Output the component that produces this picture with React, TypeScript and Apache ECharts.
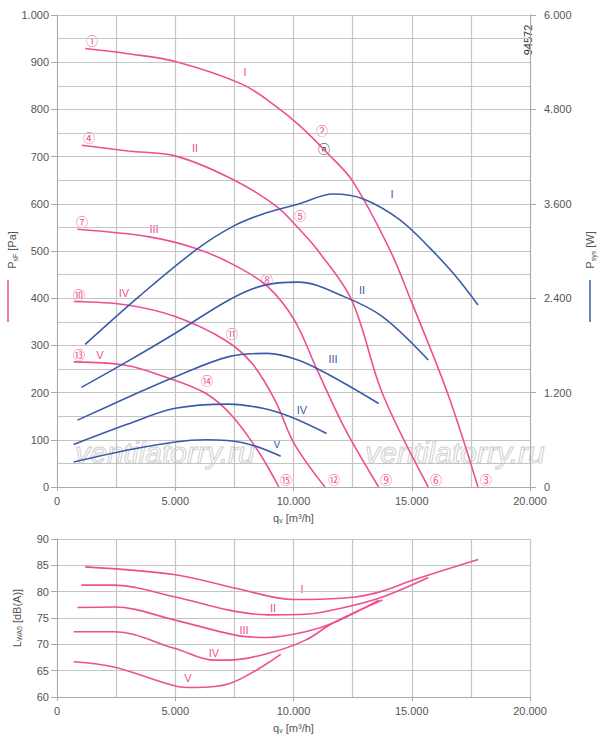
import React, { useEffect, useRef } from "react";
import * as echarts from "echarts";

// Pressure curves (q [m3/h], Pa)
const pI = [[1190, 929], [3000, 918], [5040, 901], [7840, 853], [9300, 805], [10250, 766], [11520, 703], [12500, 648], [14070, 503], [14960, 396], [16520, 198], [17800, 0]];
const pII = [[1045, 724], [3000, 712], [5030, 701], [7420, 652], [9265, 595], [10250, 546], [11000, 503], [12460, 396], [13760, 198], [15700, 0]];
const pIII = [[860, 546], [3900, 530], [5900, 505], [7500, 470], [8900, 425], [10030, 354], [11000, 248], [12140, 127], [13600, 0]];
const pIV = [[705, 393], [2900, 386], [5000, 361], [7110, 311], [8245, 262], [9216, 184], [10030, 92], [11330, 0]];
const pV = [[705, 265], [2900, 258], [4516, 234], [6300, 198], [7435, 149], [8570, 71], [9380, 0]];
// Power curves (q, W)
const wI = [[1190, 1813], [3500, 2430], [5890, 3017], [7420, 3310], [8800, 3480], [10250, 3600], [11670, 3725], [12930, 3665], [14500, 3397], [15770, 3036], [16800, 2700], [17800, 2314]];
const wII = [[1030, 1266], [3000, 1600], [5000, 1955], [7270, 2378], [8700, 2560], [10190, 2604], [12140, 2420], [13760, 2166], [15700, 1614]];
const wIII = [[868, 850], [3000, 1140], [5000, 1402], [7270, 1657], [8900, 1699], [10190, 1614], [11650, 1402], [13600, 1062]];
const wIV = [[705, 540], [3000, 800], [5000, 1000], [7270, 1054], [8700, 1000], [9870, 892], [11400, 680]];
const wV = [[705, 318], [3000, 470], [5000, 573], [6300, 600], [7910, 560], [9460, 391]];
// Sound (q, dB(A))
const sI = [[1190, 84.7], [5000, 83.2], [7600, 80.6], [10030, 78.5], [12620, 79.0], [13760, 80.1], [15060, 82.2], [17810, 86.1]];
const sII = [[1030, 81.25], [2400, 81.25], [5000, 79.0], [7270, 76.5], [8900, 75.6], [10510, 75.7], [12140, 77.0], [13760, 79.0], [15700, 82.7]];
const sIII = [[870, 77.0], [2400, 77.1], [5000, 74.6], [7600, 71.7], [8900, 71.3], [10510, 72.4], [11810, 74.3], [13600, 78.4]];
const sIV = [[705, 72.4], [2400, 72.4], [5000, 69.2], [6620, 67.0], [7270, 67.0], [8900, 68.25], [10510, 70.8], [11650, 74.0], [13760, 78.4]];
const sV = [[705, 66.7], [2400, 65.7], [5000, 62.1], [5810, 61.8], [7270, 62.5], [9460, 68.1]];

const PINK = "#ef4f92";
const BLUE = "#3a5ca8";
const GRAYT = "#555";
const GRID = "#c4c4c4";

const fmt = (v: number) =>
  v >= 1000 ? `${Math.floor(v / 1000)}.${String(v % 1000).padStart(3, "0")}` : String(v);

export default function App() {
  const ref = useRef<HTMLDivElement>(null);
  useEffect(() => {
    document.body.style.margin = "0";
    const chart = echarts.init(ref.current!, null, { renderer: "svg" });
    const font = "Liberation Sans";
    const axisLbl = { color: GRAYT, fontSize: 11, fontFamily: font };
    const xBase = (gi: number) => ({
      type: "value", gridIndex: gi, min: 0, max: 20000, interval: 5000,
      axisLabel: { ...axisLbl, formatter: fmt, margin: 8 },
      axisLine: { lineStyle: { color: "#aaa" } },
      axisTick: { show: true, length: 4, lineStyle: { color: "#aaa" } },
      splitLine: { lineStyle: { color: GRID, width: 1.2 } },
      minorTick: { show: false, splitNumber: 2 },
      minorSplitLine: { show: true, lineStyle: { color: GRID, width: 1.2 } },
      name: "{a|q}{s|v}{a| [m³/h]}", nameLocation: "middle", nameGap: 24,
      nameTextStyle: { rich: { a: { color: GRAYT, fontSize: 11, fontFamily: font }, s: { color: GRAYT, fontSize: 7, fontFamily: font, verticalAlign: "bottom", padding: [6, 0, 0, 0] } } },
    });
    const line = (data: number[][], color: string, xi: number, yi: number) => ({
      type: "line", data, xAxisIndex: xi, yAxisIndex: yi, smooth: 0.35, symbol: "none",
      lineStyle: { color, width: 1.6 }, silent: true,
    });
    const circ = ["①", "②", "③", "④", "⑤", "⑥", "⑦", "⑧", "⑨", "⑩", "⑪", "⑫", "⑬", "⑭", "⑮"];
    const circPos = [[92, 40], [322, 130], [486, 479], [89, 137], [300, 215], [436, 479], [82, 221], [267, 279], [386, 479], [79, 294], [232, 333], [334, 479], [79, 354], [207, 380], [286, 479]];
    const rom = ["I", "II", "III", "IV", "V"];
    const pinkR = [[245, 72], [195, 148], [154, 229], [124, 293], [100, 355]];
    const blueR = [[392, 194], [362, 290], [333, 359], [302, 410], [277, 444]];
    const botR = [[302, 589], [273, 608], [244, 630], [214, 653], [188, 678]];
    const txt = (s: string, x: number, y: number, color: string, size = 11, extra: any = {}) => ({
      type: "text", x, y, style: { text: s, fill: color, fontSize: size, fontFamily: font, align: "center", verticalAlign: "middle", ...extra },
    });
    const graphics: any[] = [];
    circ.forEach((c, i) => graphics.push(txt(c, circPos[i][0], circPos[i][1], PINK, 12, { fontFamily: "Noto Sans CJK SC" })));
    graphics.push(txt("ⓝ", 324, 148, "#222", 12, { fontFamily: "Noto Sans CJK SC" }));
    rom.forEach((r, i) => {
      graphics.push(txt(r, pinkR[i][0], pinkR[i][1], PINK, 11));
      graphics.push(txt(r, blueR[i][0], blueR[i][1], BLUE, 11));
      graphics.push(txt(r, botR[i][0], botR[i][1], PINK, 11));
    });
    graphics.push({ type: "text", x: 528, y: 40, rotation: Math.PI / 2, style: { text: "94572", fill: "#333", fontSize: 11, fontFamily: font, align: "center", verticalAlign: "middle" } });
    [[165, 452], [455, 452]].forEach(([x, y]) =>
      graphics.push({ type: "text", x, y, z: 0, style: { text: "ventilatorry.ru", fill: "rgba(255,255,255,0)", stroke: "#d0d0d0", lineWidth: 1, fontSize: 30, fontStyle: "italic", fontFamily: font, align: "center", verticalAlign: "middle" } }));
    graphics.push({ type: "text", x: 12, y: 250, rotation: Math.PI / 2, style: { text: "{a|P}{s|sF}{a| [Pa]}", rich: { a: { fill: GRAYT, fontSize: 11, fontFamily: font }, s: { fill: GRAYT, fontSize: 7, fontFamily: font, padding: [6, 0, 0, 0] } }, align: "center", verticalAlign: "middle" } });
    graphics.push({ type: "line", shape: { x1: 8, y1: 280, x2: 8, y2: 322 }, style: { stroke: PINK, lineWidth: 1.5 } });
    graphics.push({ type: "text", x: 590, y: 250, rotation: Math.PI / 2, style: { text: "{a|P}{s|sys}{a| [W]}", rich: { a: { fill: GRAYT, fontSize: 11, fontFamily: font }, s: { fill: GRAYT, fontSize: 7, fontFamily: font, padding: [6, 0, 0, 0] } }, align: "center", verticalAlign: "middle" } });
    graphics.push({ type: "line", shape: { x1: 590, y1: 280, x2: 590, y2: 322 }, style: { stroke: BLUE, lineWidth: 1.5 } });

    chart.setOption({
      animation: false,
      grid: [
        { left: 57, right: 70, top: 15, height: 472 },
        { left: 57, right: 70, top: 539, height: 158 },
      ],
      xAxis: [xBase(0), xBase(1)],
      yAxis: [
        {
          type: "value", gridIndex: 0, min: 0, max: 1000, interval: 100,
          axisLabel: { ...axisLbl, formatter: fmt },
          axisLine: { show: true, lineStyle: { color: "#aaa" } },
          axisTick: { show: true, length: 6, lineStyle: { color: "#aaa" } },
          splitLine: { lineStyle: { color: GRID, width: 1.2 } },
          minorTick: { show: false, splitNumber: 2 },
          minorSplitLine: { show: true, lineStyle: { color: GRID, width: 1.2 } },
        },
        {
          type: "value", gridIndex: 0, min: 0, max: 6000, interval: 1200, position: "right",
          axisLabel: { ...axisLbl, formatter: fmt, margin: 14 },
          axisLine: { show: true, lineStyle: { color: "#aaa" } },
          axisTick: { show: true, length: 6, lineStyle: { color: "#aaa" } },
          splitLine: { show: false },
        },
        {
          type: "value", gridIndex: 1, min: 60, max: 90, interval: 5,
          axisLabel: { ...axisLbl },
          axisLine: { show: true, lineStyle: { color: "#aaa" } },
          axisTick: { show: true, length: 6, lineStyle: { color: "#aaa" } },
          splitLine: { lineStyle: { color: GRID, width: 1.2 } },
          name: "{a|L}{s|WA5}{a| [dB(A)]}", nameLocation: "middle", nameGap: 34, nameRotate: 90,
          nameTextStyle: { rich: { a: { color: GRAYT, fontSize: 11, fontFamily: font }, s: { color: GRAYT, fontSize: 7, fontFamily: font, padding: [6, 0, 0, 0] } } },
        },
      ],
      series: [
        line(pI, PINK, 0, 0), line(pII, PINK, 0, 0), line(pIII, PINK, 0, 0), line(pIV, PINK, 0, 0), line(pV, PINK, 0, 0),
        line(wI, BLUE, 0, 1), line(wII, BLUE, 0, 1), line(wIII, BLUE, 0, 1), line(wIV, BLUE, 0, 1), line(wV, BLUE, 0, 1),
        line(sI, PINK, 1, 2), line(sII, PINK, 1, 2), line(sIII, PINK, 1, 2), line(sIV, PINK, 1, 2), line(sV, PINK, 1, 2),
      ],
      graphic: graphics,
    });
    return () => chart.dispose();
  }, []);
  return <div ref={ref} style={{ width: 600, height: 747 }} />;
}
